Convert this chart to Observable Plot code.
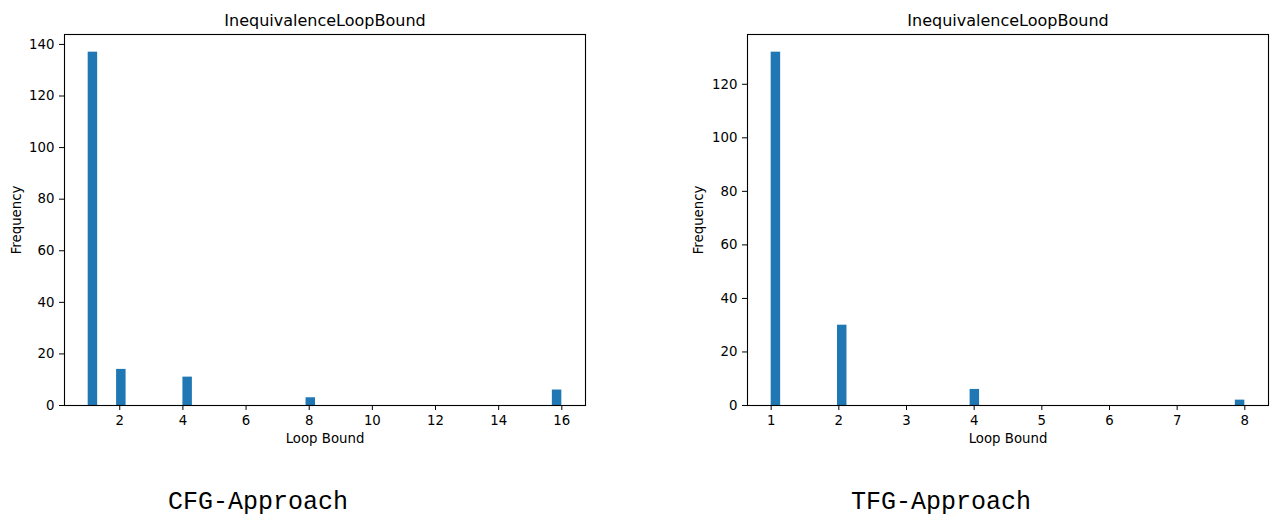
<!DOCTYPE html>
<html>
<head>
<meta charset="utf-8">
<script src="https://cdn.jsdelivr.net/npm/d3@7"></script>
<script src="https://cdn.jsdelivr.net/npm/@observablehq/plot@0.6"></script>
<style>
  html, body { margin: 0; padding: 0; background: white; }
  #wrap { position: relative; width: 1275px; height: 520px; overflow: hidden; }
  .panel { position: absolute; top: 0; }
  .caption { position: absolute; font-family: "Liberation Mono", "DejaVu Sans Mono", monospace; font-size: 25px; color: black; white-space: nowrap; transform: translateX(-50%); line-height: 1; }
</style>
</head>
<body>
<div id="wrap">
  <div id="left" class="panel" style="left:0px"></div>
  <div id="right" class="panel" style="left:640px"></div>
  <div class="caption" id="capL" style="left:258px; top:490px;"></div>
  <div class="caption" id="capR" style="left:941px; top:490px;"></div>
</div>
<script>
// ---- data ----
const chartTitle = "InequivalenceLoopBound";
const xLabel = "Loop Bound";
const yLabel = "Frequency";
const binCount = 50;

const cfgBounds = [1, 2, 4, 8, 16];
const cfgFreq = [137, 14, 11, 3, 6];
const cfgXTicks = [2, 4, 6, 8, 10, 12, 14, 16];
const cfgYTicks = [0, 20, 40, 60, 80, 100, 120, 140];
const cfgCaption = "CFG-Approach";

const tfgBounds = [1, 2, 4, 8];
const tfgFreq = [132, 30, 6, 2];
const tfgXTicks = [1, 2, 3, 4, 5, 6, 7, 8];
const tfgYTicks = [0, 20, 40, 60, 80, 100, 120];
const tfgCaption = "TFG-Approach";

// ---- histogram bins (matplotlib-style, 50 equal bins over [min, max]) ----
function bins(bounds, freq) {
  const lo = d3.min(bounds), hi = d3.max(bounds);
  const w = (hi - lo) / binCount;
  return bounds.map((b, k) => {
    const i = Math.min(binCount - 1, Math.floor((b - lo) / w + 1e-9));
    return { x1: lo + i * w, x2: lo + (i + 1) * w, y: freq[k] };
  });
}

function chart(bounds, freq, xTicks, yTicks, opts) {
  const data = bins(bounds, freq);
  const lo = d3.min(bounds), hi = d3.max(bounds);
  const pad = (hi - lo) * 0.05;
  const ymax = d3.max(freq) * 1.05;
  return Plot.plot({
    width: opts.width,
    height: 460,
    marginLeft: opts.marginLeft,
    marginRight: opts.marginRight,
    marginTop: 34,
    marginBottom: 55,
    style: { fontFamily: "DejaVu Sans", fontSize: "13.3px", color: "black", background: "white" },
    x: { domain: [lo - pad, hi + pad], ticks: xTicks, tickSize: 5, tickPadding: 5, label: null, tickFormat: d3.format("d") },
    y: { domain: [0, ymax], ticks: yTicks, tickSize: 5, tickPadding: 5, label: null, tickFormat: d3.format("d") },
    marks: [
      Plot.rectY(data, { x1: "x1", x2: "x2", y: "y", fill: "#1f77b4", inset: 0 }),
      Plot.frame({ stroke: "black", strokeWidth: 1.1 }),
      Plot.text([chartTitle], { frameAnchor: "top", dy: -14, fontSize: 16, lineAnchor: "middle", fill: "black" }),
      Plot.text([xLabel], { frameAnchor: "bottom", dy: 33, fontSize: 13.3, lineAnchor: "middle", fill: "black" }),
      Plot.text([yLabel], { frameAnchor: "left", dx: opts.yLabelDx, rotate: -90, fontSize: 13.3, textAnchor: "middle", lineAnchor: "middle", fill: "black" })
    ]
  });
}

document.getElementById("left").appendChild(
  chart(cfgBounds, cfgFreq, cfgXTicks, cfgYTicks, { width: 640, marginLeft: 64, marginRight: 55, yLabelDx: -48 })
);
document.getElementById("right").appendChild(
  chart(tfgBounds, tfgFreq, tfgXTicks, tfgYTicks, { width: 635, marginLeft: 107, marginRight: 7, yLabelDx: -49 })
);
document.getElementById("capL").textContent = cfgCaption;
document.getElementById("capR").textContent = tfgCaption;
</script>
</body>
</html>
